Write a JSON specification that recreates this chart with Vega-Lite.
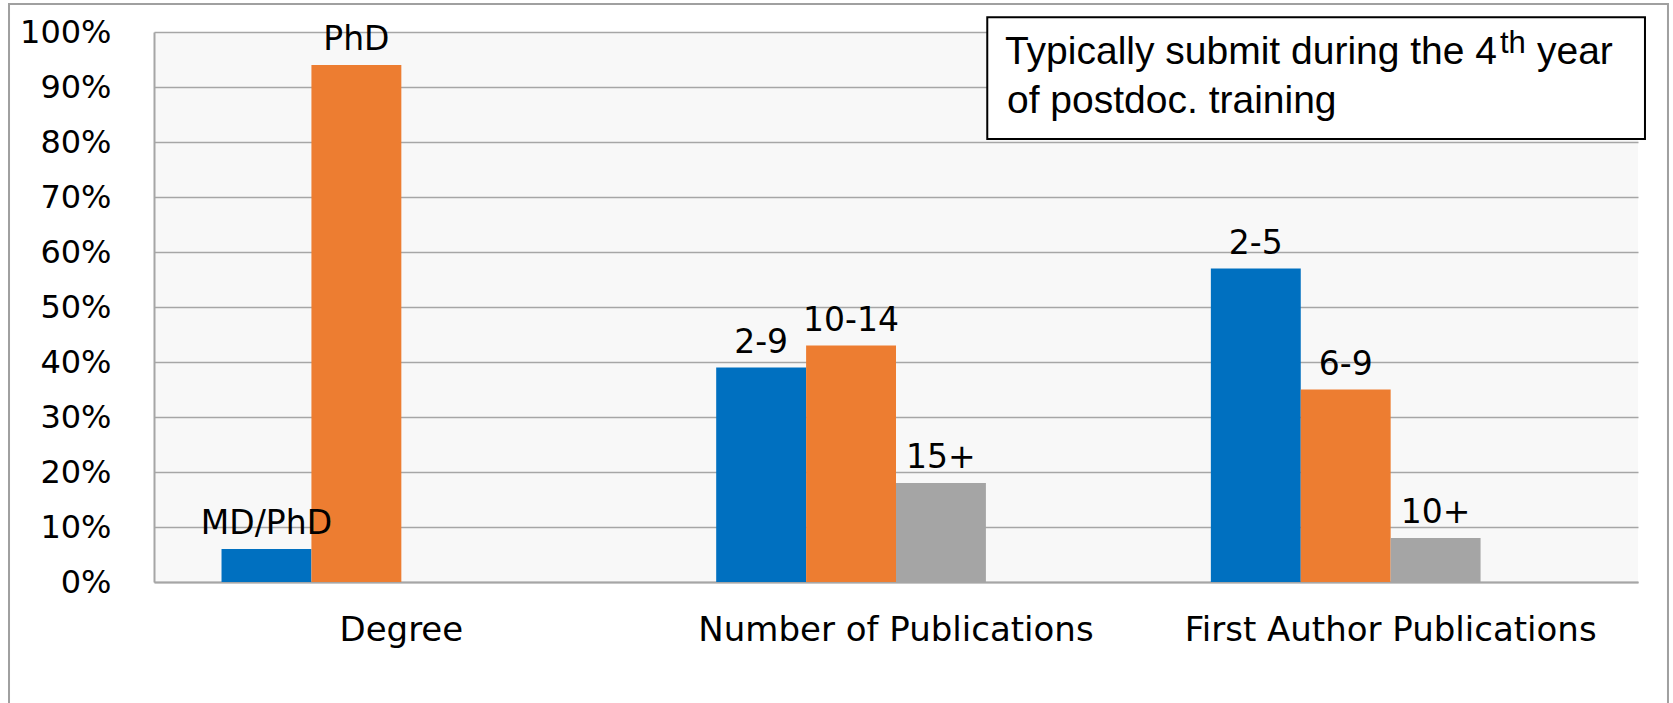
{
  "$schema": "https://vega.github.io/schema/vega-lite/v6.json",
  "width": 1484,
  "height": 550,
  "autosize": {"type": "none"},
  "padding": {"left": 154, "top": 32, "right": 35, "bottom": 121},
  "background": "white",
  "config": {"view": {"fill": "#F8F8F8", "stroke": null}, "font": "DejaVu Sans"},
  "data": {
    "values": [
      {"category": "Degree", "series": "s1", "label": "MD/PhD", "value": 0.06},
      {"category": "Degree", "series": "s2", "label": "PhD", "value": 0.94},
      {"category": "Number of Publications", "series": "s1", "label": "2-9", "value": 0.39},
      {"category": "Number of Publications", "series": "s2", "label": "10-14", "value": 0.43},
      {"category": "Number of Publications", "series": "s3", "label": "15+", "value": 0.18},
      {"category": "First Author Publications", "series": "s1", "label": "2-5", "value": 0.57},
      {"category": "First Author Publications", "series": "s2", "label": "6-9", "value": 0.35},
      {"category": "First Author Publications", "series": "s3", "label": "10+", "value": 0.08}
    ]
  },
  "resolve": {"scale": {"x": "independent"}, "axis": {"x": "independent", "y": "independent"}},
  "layer": [
    {
      "layer": [
        {
          "mark": {"type": "bar"},
          "encoding": {
            "x": {
              "field": "category", "type": "nominal",
              "sort": ["Degree", "Number of Publications", "First Author Publications"],
              "scale": {"paddingInner": 0.273, "paddingOuter": 0.1365},
              "axis": {"title": null, "labelAngle": 0, "ticks": false, "tickSize": 0, "labelPadding": 58, "labelBaseline": "alphabetic", "labelFontSize": 34, "labelLimit": 0, "labelFont": "DejaVu Sans", "labelColor": "black", "domainColor": "#A6A6A6", "domainWidth": 2}
            },
            "xOffset": {"field": "series", "type": "nominal", "scale": {"domain": ["s1", "s2", "s3", "s4"], "paddingInner": 0, "paddingOuter": 0}},
            "y": {
              "field": "value", "type": "quantitative",
              "scale": {"domain": [0, 1], "nice": false},
              "axis": {"title": null, "format": ".0%", "values": [0, 0.1, 0.2, 0.3, 0.4, 0.5, 0.6, 0.7, 0.8, 0.9, 1], "ticks": false, "tickSize": 0, "labelPadding": 43, "labelFontSize": 32, "labelFont": "DejaVu Sans", "labelColor": "black", "grid": true, "gridColor": "#A6A6A6", "gridWidth": 1.5, "domainColor": "#A6A6A6", "domainWidth": 2}
            },
            "color": {"field": "series", "type": "nominal", "scale": {"domain": ["s1", "s2", "s3"], "range": ["#0070C0", "#ED7D31", "#A5A5A5"]}, "legend": null}
          }
        },
        {
          "mark": {"type": "text", "baseline": "alphabetic", "dy": -15, "fontSize": 33, "font": "DejaVu Sans", "color": "black"},
          "encoding": {
            "x": {"field": "category", "type": "nominal", "sort": ["Degree", "Number of Publications", "First Author Publications"]},
            "xOffset": {"field": "series", "type": "nominal"},
            "y": {"field": "value", "type": "quantitative"},
            "text": {"field": "label"}
          }
        }
      ]
    },
    {
      "data": {"values": [{}]},
      "layer": [
        {
          "mark": {"type": "rect", "fill": "transparent", "stroke": "#A0A0A0", "strokeWidth": 2},
          "encoding": {
            "x": {"datum": -0.0977, "type": "quantitative", "scale": {"domain": [0, 1], "nice": false, "zero": false}, "axis": null},
            "x2": {"datum": 1.0202},
            "y": {"datum": 1.0509, "type": "quantitative", "axis": null},
            "y2": {"datum": -0.3}
          }
        },
        {
          "mark": {"type": "rect", "fill": "white", "stroke": "black", "strokeWidth": 2},
          "encoding": {
            "x": {"datum": 0.5615, "type": "quantitative", "axis": null},
            "x2": {"datum": 1.0047},
            "y": {"datum": 1.0267, "type": "quantitative", "axis": null},
            "y2": {"datum": 0.8055}
          }
        },
        {
          "mark": {"type": "text", "align": "right", "baseline": "alphabetic", "font": "Liberation Sans", "fontSize": 39, "color": "black"},
          "encoding": {
            "x": {"datum": 0.905, "type": "quantitative", "axis": null},
            "y": {"datum": 0.9418, "type": "quantitative", "axis": null},
            "text": {"value": "Typically submit during the 4"}
          }
        },
        {
          "mark": {"type": "text", "align": "left", "baseline": "alphabetic", "font": "Liberation Sans", "fontSize": 31, "color": "black"},
          "encoding": {
            "x": {"datum": 0.907, "type": "quantitative", "axis": null},
            "y": {"datum": 0.9618, "type": "quantitative", "axis": null},
            "text": {"value": "th"}
          }
        },
        {
          "mark": {"type": "text", "align": "left", "baseline": "alphabetic", "font": "Liberation Sans", "fontSize": 39, "color": "black"},
          "encoding": {
            "x": {"datum": 0.9319, "type": "quantitative", "axis": null},
            "y": {"datum": 0.9418, "type": "quantitative", "axis": null},
            "text": {"value": "year"}
          }
        },
        {
          "mark": {"type": "text", "align": "left", "baseline": "alphabetic", "font": "Liberation Sans", "fontSize": 39, "color": "black"},
          "encoding": {
            "x": {"datum": 0.5748, "type": "quantitative", "axis": null},
            "y": {"datum": 0.8527, "type": "quantitative", "axis": null},
            "text": {"value": "of postdoc. training"}
          }
        }
      ]
    }
  ]
}
